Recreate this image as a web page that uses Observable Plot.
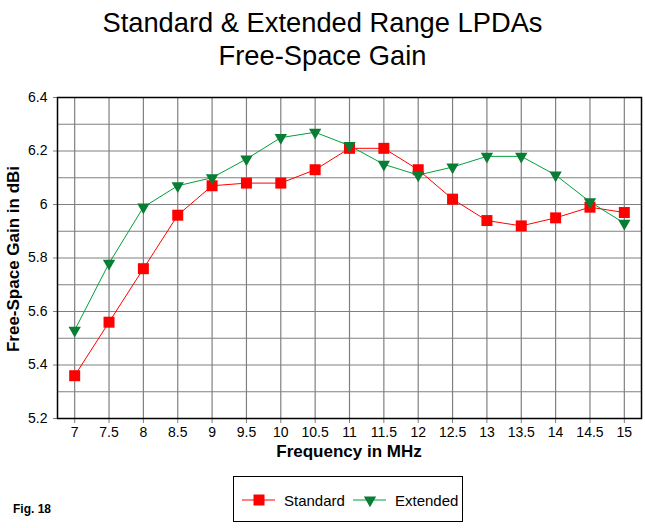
<!DOCTYPE html>
<html>
<head>
<meta charset="utf-8">
<script src="https://cdn.jsdelivr.net/npm/d3@7"></script>
<script src="https://cdn.jsdelivr.net/npm/@observablehq/plot@0.6"></script>
<style>
  html, body { margin: 0; padding: 0; background: #fff; }
  body { width: 645px; height: 528px; position: relative; overflow: hidden; font-family: "Liberation Sans", Arial, sans-serif; }
  .abs { position: absolute; white-space: nowrap; color: #000; }
  #title { left: 0; width: 645px; top: 6px; text-align: center; font-size: 27.3px; line-height: 33px; }
  #ylabel { left: 14px; top: 259px; transform: translate(-50%, -50%) rotate(-90deg); font-weight: bold; font-size: 17px; }
  #xlabel { left: 349px; top: 442px; transform: translateX(-50%); font-weight: bold; font-size: 17px; }
  #fig { left: 13px; top: 502px; font-weight: bold; font-size: 12px; }
  #legend { left: 233px; top: 476px; width: 228px; height: 44px; border: 1px solid #000; }
  #chart { position: absolute; left: 0; top: 0; }
</style>
</head>
<body>
<div id="chart"></div>
<div class="abs" id="title">Standard &amp; Extended Range LPDAs<br>Free-Space Gain</div>
<div class="abs" id="ylabel">Free-Space Gain in dBi</div>
<div class="abs" id="xlabel">Frequency in MHz</div>
<div class="abs" id="fig">Fig. 18</div>
<div class="abs" id="legend"></div>
<script>
const frequencies = [7, 7.5, 8, 8.5, 9, 9.5, 10, 10.5, 11, 11.5, 12, 12.5, 13, 13.5, 14, 14.5, 15];
const standardGain = [5.36, 5.56, 5.76, 5.96, 6.07, 6.08, 6.08, 6.13, 6.21, 6.21, 6.13, 6.02, 5.94, 5.92, 5.95, 5.99, 5.97];
const extendedGain = [5.53, 5.78, 5.99, 6.07, 6.10, 6.17, 6.25, 6.27, 6.22, 6.15, 6.11, 6.14, 6.18, 6.18, 6.11, 6.01, 5.93];
const xTicks = [7, 7.5, 8, 8.5, 9, 9.5, 10, 10.5, 11, 11.5, 12, 12.5, 13, 13.5, 14, 14.5, 15];
const yGrid = [5.2, 5.3, 5.4, 5.5, 5.6, 5.7, 5.8, 5.9, 6.0, 6.1, 6.2, 6.3, 6.4];
const yTicks = [5.2, 5.4, 5.6, 5.8, 6.0, 6.2, 6.4];
const seriesNames = ["Standard", "Extended"];

const RED = "#ff0000";
const GREEN_LINE = "#00a03c";
const GREEN_MARK = "#0a7d34";

const std = frequencies.map((f, i) => ({f, g: standardGain[i]}));
const ext = frequencies.map((f, i) => ({f, g: extendedGain[i]}));

const chart = Plot.plot({
  width: 645,
  height: 528,
  marginTop: 97,
  marginBottom: 110,
  marginLeft: 57,
  marginRight: 4,
  style: {fontFamily: "'Liberation Sans', Arial, sans-serif", fontSize: "14px", background: "transparent"},
  x: {domain: [6.75, 15.25]},
  y: {domain: [5.2, 6.4]},
  marks: [
    Plot.ruleX(xTicks, {x: d => d, y1: 5.2, y2: 6.4, stroke: "#808080", strokeWidth: 1.2}),
    Plot.ruleY(yGrid, {y: d => d, stroke: "#808080", strokeWidth: 1.2}),
    Plot.axisX(xTicks, {tickSize: 5, stroke: "#808080", fill: "#000", tickPadding: 4, label: null, tickFormat: d => String(d), fontSize: 14}),
    Plot.axisY(yTicks, {tickSize: 4, stroke: "#808080", fill: "#000", tickPadding: 6, label: null, tickFormat: d => String(+d.toFixed(1)), fontSize: 14}),
    Plot.frame({stroke: "#000", strokeWidth: 1.5}),
    Plot.line(std, {x: "f", y: "g", stroke: RED, strokeWidth: 1}),
    Plot.line(ext, {x: "f", y: "g", stroke: GREEN_LINE, strokeWidth: 1}),
    Plot.dot(std, {x: "f", y: "g", symbol: "square", r: 6.2, fill: RED, stroke: "none"}),
    Plot.dot(ext, {x: "f", y: "g", symbol: "triangle", r: 4.6, rotate: 180, fill: GREEN_MARK, stroke: "none"})
  ]
});
document.getElementById("chart").appendChild(chart);

// Legend
const lg = d3.select("#legend").append("svg").attr("width", 228).attr("height", 44).style("display", "block");
const items = [
  {name: seriesNames[0], line: RED, mark: "square", fill: RED, x0: 8},
  {name: seriesNames[1], line: GREEN_LINE, mark: "triangle", fill: GREEN_MARK, x0: 119}
];
items.forEach(it => {
  const g = lg.append("g").attr("transform", `translate(${it.x0},23)`);
  g.append("line").attr("x1", 0).attr("x2", 33).attr("y1", 0).attr("y2", 0).attr("stroke", it.line).attr("stroke-width", 1);
  const sym = it.mark === "square" ? d3.symbol(d3.symbolSquare, 121) : d3.symbol(d3.symbolTriangle, 66);
  g.append("path").attr("d", sym()).attr("transform", it.mark === "square" ? "translate(17,0)" : "translate(17,0) rotate(180)").attr("fill", it.fill);
  g.append("text").attr("x", 42).attr("y", 5.5).attr("font-family", "'Liberation Sans', Arial, sans-serif").attr("font-size", 15).text(it.name);
});
</script>
</body>
</html>
